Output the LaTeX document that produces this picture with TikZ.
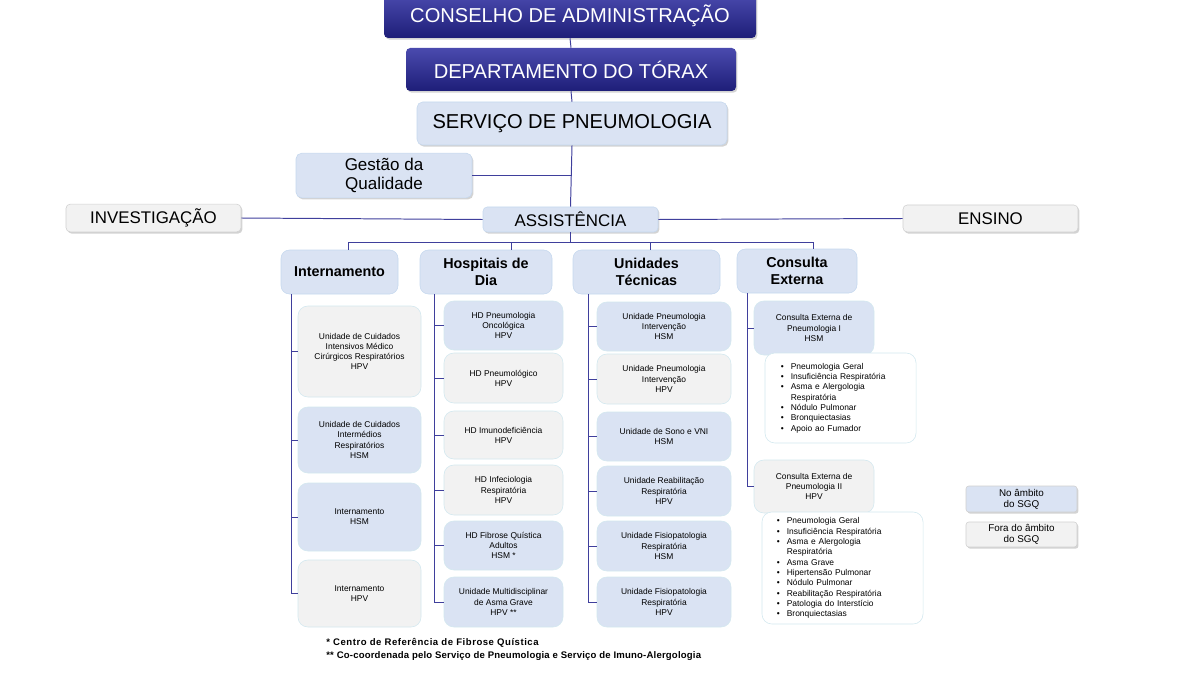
\documentclass[tikz,border=0pt]{standalone}
\usepackage{fontspec}
\setmainfont{Liberation Sans}
\usetikzlibrary{shadows}
\definecolor{navyT}{HTML}{4A4AAE}
\definecolor{navyB}{HTML}{1E1E78}
\definecolor{lblue}{HTML}{DAE3F3}
\definecolor{lgray}{HTML}{F2F2F2}
\definecolor{bord}{HTML}{D3E8EF}
\definecolor{hbord}{HTML}{C5D8EE}
\definecolor{gbord}{HTML}{D0D0D0}
\definecolor{conn}{HTML}{3F3F9C}
\newcommand\mybox[7]{%
  \pgfmathsetmacro\cx{(#3+#5)/2}\pgfmathsetmacro\cy{(#4+#6)/2}%
  \pgfmathsetmacro\ww{(#5-#3)*0.025}\pgfmathsetmacro\hh{(#6-#4)*0.025}%
  \node[#1, minimum width=\ww cm, minimum height=\hh cm] (#2) at (\cx,\cy) {#7};}
\newcommand\bul{\makebox[7pt][l]{•}}
\newcommand\nobul{\makebox[7pt][l]{}}
\begin{document}
\begin{tikzpicture}[x=0.025cm,y=-0.025cm,
  shad/.style={drop shadow={opacity=0.35,shadow xshift=1pt,shadow yshift=-1.2pt}},
  topbox/.style={rounded corners=3pt, top color=navyT, bottom color=navyB, text=white,
    font=\fontsize{14.3}{17}\selectfont, shad},
  servbox/.style={rounded corners=4pt, fill=lblue, draw=hbord, font=\fontsize{14.3}{17}\selectfont, shad},
  gestbox/.style={rounded corners=4pt, fill=lblue, draw=hbord, align=center,
    font=\fontsize{12.1}{14}\selectfont, shad},
  assbox/.style={rounded corners=3pt, fill=lblue, draw=hbord, font=\fontsize{12}{14}\selectfont, shad},
  sidebox/.style={rounded corners=3pt, fill=lgray, draw=gbord, font=\fontsize{12}{14}\selectfont, shad},
  head/.style={rounded corners=6pt, fill=lblue, draw=hbord, align=center,
    font=\bfseries\fontsize{10.2}{12}\selectfont},
  kid/.style={rounded corners=7pt, draw=bord, align=center, inner sep=1pt,
    font=\fontsize{6}{7.2}\selectfont},
  kb/.style={kid, fill=lblue},
  kg/.style={kid, fill=lgray},
  lst/.style={kid, fill=white, align=left, font=\fontsize{6}{7.35}\selectfont},
  leg/.style={rounded corners=2pt, draw=gbord, align=center, inner sep=0pt,
    font=\fontsize{7}{7.8}\selectfont, shad},
  cn/.style={draw=conn, line width=0.7pt}]
\useasboundingbox (0,0) rectangle (1200,675);
% top levels
\mybox{topbox}{cons}{384}{-6}{756}{38}{CONSELHO DE ADMINISTRAÇÃO}
\mybox{topbox}{dept}{406}{48}{736}{91}{DEPARTAMENTO DO TÓRAX}
\mybox{servbox}{serv}{417}{102}{727}{145}{SERVIÇO DE PNEUMOLOGIA}
\mybox{gestbox}{gest}{296}{154}{472}{197}{Gestão da\\Qualidade}
\mybox{assbox}{asst}{483}{207}{658}{232}{ASSISTÊNCIA}
\mybox{sidebox}{inv}{66}{205}{241}{231}{INVESTIGAÇÃO}
\mybox{sidebox}{ens}{903}{205}{1078}{232}{ENSINO}
% headers
\mybox{head}{int}{281}{250}{398}{294}{Internamento}
\mybox{head}{hd}{420}{250}{552}{294}{Hospitais de\\Dia}
\mybox{head}{ut}{573}{250}{720}{294}{Unidades\\Técnicas}
\mybox{head}{ce}{737}{249}{857}{293}{Consulta\\Externa}
% internamento
\mybox{kg}{i1}{298}{306}{421}{397}{Unidade de Cuidados\\Intensivos Médico\\Cirúrgicos Respiratórios\\HPV}
\mybox{kb}{i2}{298}{407}{421}{473}{Unidade de Cuidados\\Intermédios\\Respiratórios\\HSM}
\mybox{kb}{i3}{298}{483}{421}{551}{Internamento\\HSM}
\mybox{kg}{i4}{298}{560}{421}{627}{Internamento\\HPV}
% hospitais de dia
\mybox{kb}{h1}{444}{301}{563}{350}{HD Pneumologia\\Oncológica\\HPV}
\mybox{kg}{h2}{444}{353}{563}{403}{HD Pneumológico\\HPV}
\mybox{kg}{h3}{444}{411}{563}{459}{HD Imunodeficiência\\HPV}
\mybox{kg}{h4}{444}{465}{563}{515}{HD Infeciologia\\Respiratória\\HPV}
\mybox{kb}{h5}{444}{521}{563}{570}{HD Fibrose Quística\\Adultos\\HSM *}
\mybox{kb}{h6}{444}{577}{563}{627}{Unidade Multidisciplinar\\de Asma Grave\\HPV **}
% unidades tecnicas
\mybox{kb}{u1}{597}{302}{731}{351}{Unidade Pneumologia\\Intervenção\\HSM}
\mybox{kg}{u2}{597}{354}{731}{404}{Unidade Pneumologia\\Intervenção\\HPV}
\mybox{kb}{u3}{597}{412}{731}{461}{Unidade de Sono e VNI\\HSM}
\mybox{kb}{u4}{597}{466}{731}{516}{Unidade Reabilitação\\Respiratória\\HPV}
\mybox{kb}{u5}{597}{521}{731}{571}{Unidade Fisiopatologia\\Respiratória\\HSM}
\mybox{kb}{u6}{597}{577}{731}{627}{Unidade Fisiopatologia\\Respiratória\\HPV}
% consulta externa
\mybox{kb}{c1}{754}{301}{874}{355}{Consulta Externa de\\Pneumologia I\\HSM}
\mybox{lst, inner xsep=0.4cm, text width=2.975cm}{l1}{765}{353}{916}{443}{\bul Pneumologia Geral\\\bul Insuficiência Respiratória\\\bul Asma e Alergologia\\\nobul Respiratória\\\bul Nódulo Pulmonar\\\bul Bronquiectasias\\\bul Apoio ao Fumador}
\mybox{kg}{c2}{754}{460}{874}{513}{Consulta Externa de\\Pneumologia II\\HPV}
\mybox{lst, inner xsep=0.375cm, text width=3.275cm}{l2}{762}{512}{923}{624}{\bul Pneumologia Geral\\\bul Insuficiência Respiratória\\\bul Asma e Alergologia\\\nobul Respiratória\\\bul Asma Grave\\\bul Hipertensão Pulmonar\\\bul Nódulo Pulmonar\\\bul Reabilitação Respiratória\\\bul Patologia do Interstício\\\bul Bronquiectasias}
% legend
\mybox{leg, fill=lblue}{lg1}{966}{486}{1077}{512}{No âmbito\\do SGQ}
\mybox{leg, fill=lgray}{lg2}{966}{522}{1077}{547}{Fora do âmbito\\do SGQ}
% footnotes
\node[anchor=west, align=left, inner sep=0pt, font=\bfseries\fontsize{6.8}{9.2}\selectfont] (fn) at (326,649.5)
  {{\addfontfeature{LetterSpace=5.5}* Centro de Referência de Fibrose Quística}\\{\addfontfeature{LetterSpace=2}** Co-coordenada pelo Serviço de Pneumologia e Serviço de Imuno-Alergologia}};
% connectors
\draw[cn] (cons.south) -- (dept.north);
\draw[cn] (dept.south) -- (serv.north);
\draw[cn] (serv.south) -- (asst.north);
\draw[cn] (gest.east) -- (gest.east -| serv.south);
\draw[cn] (inv.east) -- (asst.west);
\draw[cn] (asst.east) -- (ens.west);
\coordinate (b1) at (348,242);
\coordinate (b2) at (511,242);
\coordinate (b3) at (650,242);
\coordinate (b4) at (813,242);
\draw[cn] (asst.south) -- (asst.south |- b1);
\draw[cn] (b1 |- int.north) -- (b1) -- (b4) -- (b4 |- ce.north);
\draw[cn] (b2) -- (b2 |- hd.north);
\draw[cn] (b3) -- (b3 |- ut.north);
\coordinate (s1) at (291,0);
\coordinate (s2) at (434,0);
\coordinate (s3) at (588,0);
\coordinate (s4) at (747,0);
\draw[cn] (s1 |- int.south) -- (s1 |- i4.west) -- (i4.west);
\foreach \n in {i1,i2,i3} \draw[cn] (s1 |- \n.west) -- (\n.west);
\draw[cn] (s2 |- hd.south) -- (s2 |- h6.west) -- (h6.west);
\foreach \n in {h1,h2,h3,h4,h5} \draw[cn] (s2 |- \n.west) -- (\n.west);
\draw[cn] (s3 |- ut.south) -- (s3 |- u6.west) -- (u6.west);
\foreach \n in {u1,u2,u3,u4,u5} \draw[cn] (s3 |- \n.west) -- (\n.west);
\draw[cn] (s4 |- ce.south) -- (s4 |- c2.west) -- (c2.west);
\draw[cn] (s4 |- c1.west) -- (c1.west);
\end{tikzpicture}
\end{document}
